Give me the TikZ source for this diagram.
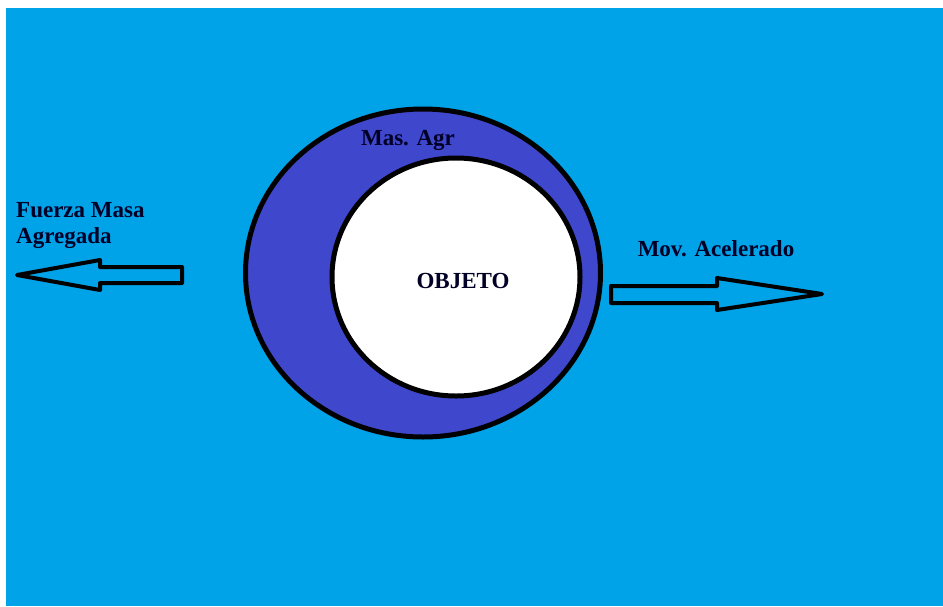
\documentclass[tikz,border=0pt]{standalone}
\usepackage{fontspec}
\setmainfont{Liberation Serif}
\usepackage{tikz}
\usetikzlibrary{shapes.geometric}

\definecolor{fondo}{RGB}{0,162,232}
\definecolor{masa}{RGB}{63,72,204}

\tikzset{
  etiqueta/.style={font=\bfseries\fontsize{23}{26}\selectfont, text=black!85!blue, inner sep=0pt},
  bloque/.style={draw=black, line width=4pt, line join=round}
}

\begin{document}
\begin{tikzpicture}[x=1pt,y=-1pt]
\useasboundingbox (0,0) rectangle (943,606);
\fill[fondo] (6,8) rectangle (943,606);

% masa agregada y objeto
\node[ellipse, draw=black, line width=5pt, fill=masa,
      minimum width=355pt, minimum height=328pt, inner sep=0pt] (masa) at (423,273) {};
\node[ellipse, draw=black, line width=5pt, fill=white,
      minimum width=248pt, minimum height=238pt, inner sep=0pt] (objeto) at (456,277) {};
\node[etiqueta, anchor=base] (agr) at (408,145) {Mas. Agr};
\node[etiqueta, anchor=base] (obj) at (463,288) {OBJETO};

% flechas
\draw[bloque] (17,275) -- (100,260) -- (100,267) -- (182,267) -- (182,283)
  -- (100,283) -- (100,290) -- cycle;
\draw[bloque] (611,286) -- (717,286) -- (717,278) -- (822,294) -- (717,310)
  -- (717,303) -- (611,303) -- cycle;

\node[etiqueta, anchor=base west, align=left] (fuerza) at (16,243) {Fuerza Masa\\Agregada};
\node[etiqueta, anchor=base] (mov) at (716,256) {Mov. Acelerado};
\end{tikzpicture}
\end{document}
